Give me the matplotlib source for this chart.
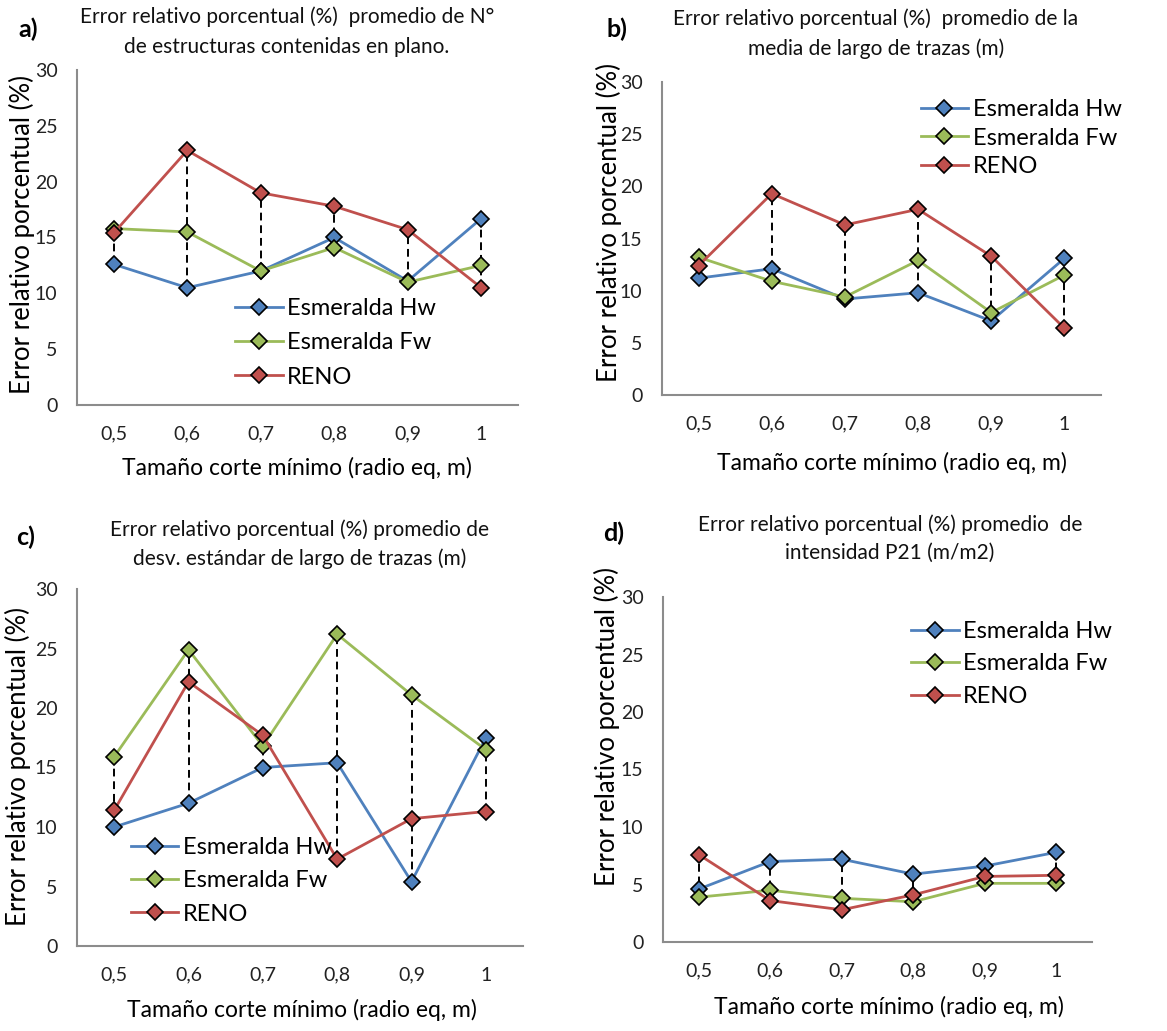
import numpy as np
import matplotlib
matplotlib.use('Agg')
import matplotlib.pyplot as plt

plt.rcParams['font.family'] = ['Lato', 'DejaVu Sans']

W, H = 1167, 1031
categories = ['0,5', '0,6', '0,7', '0,8', '0,9', '1']
series_names = ['Esmeralda Hw', 'Esmeralda Fw', 'RENO']
colors = ['#4F81BD', '#9BBB59', '#C0504D']

# a) N° de estructuras contenidas en plano
a_hw = [12.6, 10.5, 12.0, 15.0, 11.1, 16.7]
a_fw = [15.8, 15.5, 12.0, 14.1, 11.0, 12.5]
a_reno = [15.4, 22.8, 19.0, 17.8, 15.7, 10.5]
# b) media de largo de trazas
b_hw = [11.2, 12.1, 9.2, 9.8, 7.1, 13.1]
b_fw = [13.2, 10.9, 9.4, 12.9, 7.9, 11.5]
b_reno = [12.4, 19.3, 16.3, 17.8, 13.3, 6.4]
# c) desv. estandar de largo de trazas
c_hw = [10.0, 12.0, 15.0, 15.4, 5.4, 17.5]
c_fw = [15.9, 24.9, 16.8, 26.2, 21.1, 16.5]
c_reno = [11.4, 22.2, 17.7, 7.3, 10.7, 11.3]
# d) intensidad P21
d_hw = [4.6, 7.0, 7.2, 5.9, 6.6, 7.8]
d_fw = [3.9, 4.5, 3.8, 3.5, 5.1, 5.1]
d_reno = [7.6, 3.6, 2.8, 4.1, 5.7, 5.8]

titles = [
    ['Error relativo porcentual (%)  promedio de N°', 'de estructuras contenidas en plano.'],
    ['Error relativo porcentual (%)  promedio de la', 'media de largo de trazas (m)'],
    ['Error relativo porcentual (%) promedio de', 'desv. estándar de largo de trazas (m)'],
    ['Error relativo porcentual (%) promedio  de', 'intensidad P21 (m/m2)'],
]
letters = ['a)', 'b)', 'c)', 'd)']
data = [(a_hw, a_fw, a_reno), (b_hw, b_fw, b_reno),
        (c_hw, c_fw, c_reno), (d_hw, d_fw, d_reno)]

# layout in pixels: axes box (left, right, top, bottom), title x and line ys, letter, ylabel, xlabel, legend anchor
layout = [
    dict(box=(77, 518, 70, 405), title=(287, 17, 47), letter=(28, 29), ylab=(22, 234), xlab=(297, 468),
         leg=(0.359, 0.319), ls=0.56),
    dict(box=(662, 1101, 82, 395), title=(876, 19, 49), letter=(617, 29), ylab=(609, 222), xlab=(892, 463),
         leg=(0.589, 0.946), ls=0.33),
    dict(box=(77, 523, 589, 946), title=(300, 530, 559), letter=(26, 537), ylab=(18, 767), xlab=(302, 1010),
         leg=(0.121, 0.305), ls=0.52),
    dict(box=(663, 1092, 597, 942), title=(890, 525, 553), letter=(614, 533), ylab=(607, 727), xlab=(889, 1007),
         leg=(0.579, 0.930), ls=0.48),
]

fig = plt.figure(figsize=(W / 100, H / 100), dpi=100)
x = np.arange(len(categories))

for i in range(4):
    L = layout[i]
    l, r, t, b = L['box']
    ax = fig.add_axes([l / W, 1 - b / H, (r - l) / W, (b - t) / H])
    vals = np.array(data[i])
    # high-low lines
    ax.vlines(x, vals.min(axis=0), vals.max(axis=0), colors='black',
              linestyles=(0, (4, 2.5)), linewidth=1.4, zorder=1)
    for j in range(3):
        ax.plot(x, vals[j], color=colors[j], lw=2, marker='D', ms=8,
                mfc=colors[j], mec='black', mew=1.2, label=series_names[j], zorder=3)
    ax.set_xlim(-0.5, 5.5)
    ax.set_ylim(0, 30)
    ax.set_yticks(range(0, 31, 5))
    ax.set_xticks(x)
    ax.set_xticklabels(categories)
    ax.tick_params(axis='both', length=0, labelsize=14, colors='#222222')
    ax.tick_params(axis='x', pad=15)
    ax.tick_params(axis='y', pad=14)
    for s in ['top', 'right']:
        ax.spines[s].set_visible(False)
    for s in ['left', 'bottom']:
        ax.spines[s].set_color('#8C8C8C')
        ax.spines[s].set_linewidth(1.5)
    ax.legend(loc='upper left', bbox_to_anchor=L['leg'], frameon=False, fontsize=17,
              handlelength=2.0, handletextpad=0.2, labelspacing=L['ls'], borderpad=0,
              borderaxespad=0, numpoints=1)

    tx, ty1, ty2 = L['title']
    for line, ty in zip(titles[i], (ty1, ty2)):
        fig.text(tx / W, 1 - ty / H, line, ha='center', va='center', fontsize=15,
                 color='#111111')
    lx, ly = L['letter']
    fig.text(lx / W, 1 - ly / H, letters[i], ha='center', va='center', fontsize=18,
             fontweight='bold')
    yx, yy = L['ylab']
    fig.text(yx / W, 1 - yy / H, 'Error relativo porcentual (%)', rotation=90,
             ha='center', va='center', fontsize=18.5)
    xx, xy = L['xlab']
    fig.text(xx / W, 1 - xy / H, 'Tamaño corte mínimo (radio eq, m)',
             ha='center', va='center', fontsize=16.5)

fig.savefig('out.png', dpi=100)
